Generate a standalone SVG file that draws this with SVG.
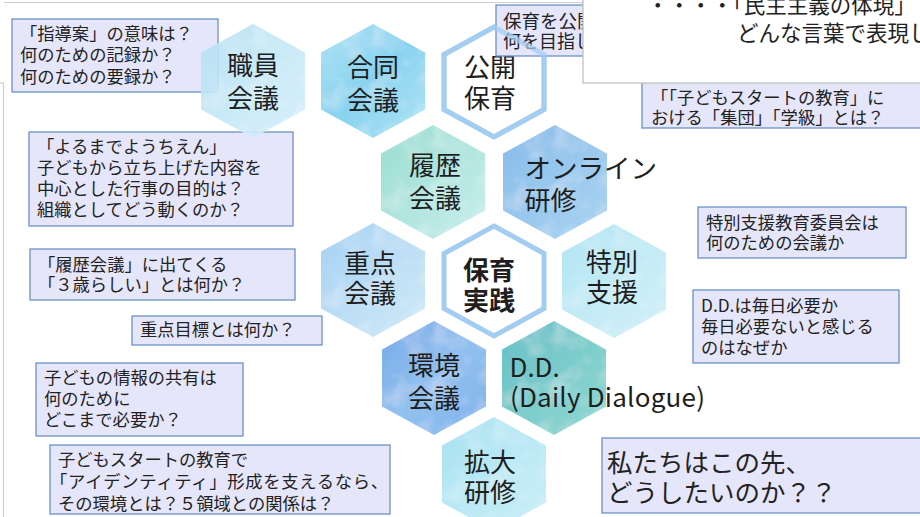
<svg xmlns="http://www.w3.org/2000/svg" xmlns:xlink="http://www.w3.org/1999/xlink" width="920" height="517" viewBox="0 0 920 517">
<style>
.box{fill:#E6E6FA;stroke:#6C93C7;stroke-width:1.3}
.bt{font-family:"Noto Sans CJK JP","Noto Sans",sans-serif;font-size:17.3px;fill:#222}
.ht{font-family:"Noto Sans CJK JP","Noto Sans",sans-serif;font-size:26px;fill:#1e1e1e;text-anchor:middle}
.hs{text-anchor:start}
.hx{opacity:0.9}
.ring{fill:#fff;stroke:#A3CDF0;stroke-width:5}
.ringline{fill:none;stroke:#A3CDF0;stroke-width:5;opacity:0.75}
.frame{stroke:#CFCFCF;stroke-width:1.2;fill:none}
</style>
<defs>
<path id="hx" d="M0,-57 L52,-28.5 L52,28.5 L0,57 L-52,28.5 L-52,-28.5Z"/>
<path id="hxo" d="M0,-55 L50,-27.5 L50,27.5 L0,55 L-50,27.5 L-50,-27.5Z"/>
<linearGradient id="g1" x1="0" y1="0" x2="1" y2="1"><stop offset="0" stop-color="#B4E0F4"/><stop offset="1" stop-color="#D4EFFA"/></linearGradient>
<linearGradient id="g2" x1="0" y1="0" x2="1" y2="1"><stop offset="0" stop-color="#A6E0F4"/><stop offset="0.5" stop-color="#7CCEEE"/><stop offset="1" stop-color="#A8E2F5"/></linearGradient>
<linearGradient id="g3" x1="0" y1="0" x2="1" y2="1"><stop offset="0" stop-color="#8FDACC"/><stop offset="1" stop-color="#C3ECEC"/></linearGradient>
<linearGradient id="g4" x1="0" y1="0" x2="1" y2="1"><stop offset="0" stop-color="#7AB5E8"/><stop offset="1" stop-color="#A2D0F0"/></linearGradient>
<linearGradient id="g5" x1="0" y1="0" x2="1" y2="1"><stop offset="0" stop-color="#9CCDF1"/><stop offset="1" stop-color="#CDE8F8"/></linearGradient>
<linearGradient id="g6" x1="0" y1="0" x2="1" y2="1"><stop offset="0" stop-color="#AAE2F4"/><stop offset="1" stop-color="#CFF0F8"/></linearGradient>
<linearGradient id="g7" x1="0" y1="0" x2="1" y2="1"><stop offset="0" stop-color="#68A0E4"/><stop offset="0.5" stop-color="#86BAEE"/><stop offset="1" stop-color="#74ABEA"/></linearGradient>
<linearGradient id="g8" x1="0" y1="0" x2="1" y2="1"><stop offset="0" stop-color="#56B9C2"/><stop offset="1" stop-color="#86D5CD"/></linearGradient>
<linearGradient id="g9" x1="0" y1="0" x2="1" y2="1"><stop offset="0" stop-color="#A0DFF1"/><stop offset="1" stop-color="#C7EEF7"/></linearGradient>
<filter id="wc" x="0" y="0" width="1" height="1">
<feTurbulence type="fractalNoise" baseFrequency="0.035" numOctaves="3" seed="4" result="n"/>
<feColorMatrix in="n" type="matrix" values="0 0 0 0 1  0 0 0 0 1  0 0 0 0 1  0.7 0 0 0 -0.32" result="w"/>
<feComposite in="w" in2="SourceGraphic" operator="in" result="spots"/>
<feMerge><feMergeNode in="SourceGraphic"/><feMergeNode in="spots"/></feMerge>
</filter>
</defs>

<g id="frame">
<line class="frame" x1="4" y1="2.5" x2="920" y2="2.5"/>
<line class="frame" x1="3.5" y1="83" x2="3.5" y2="517"/>
<line class="frame" x1="0" y1="83" x2="4" y2="83"/>
</g>

<g id="q-shidouan">
<rect class="box" x="12" y="19" width="206" height="73"/>
<text class="bt" x="20" y="39.5">「指導案」の意味は？</text>
<text class="bt" x="20" y="61">何のための記録か？</text>
<text class="bt" x="20" y="82.5">何のための要録か？</text>
</g>
<g id="q-yorumade">
<rect class="box" x="29" y="132" width="264" height="94"/>
<text class="bt" x="37" y="152.5">「よるまでようちえん」</text>
<text class="bt" x="37" y="173.8">子どもから立ち上げた内容を</text>
<text class="bt" x="37" y="195.1">中心とした行事の目的は？</text>
<text class="bt" x="37" y="216.4">組織としてどう動くのか？</text>
</g>
<g id="q-rireki">
<rect class="box" x="30" y="249" width="265" height="51"/>
<text class="bt" x="38" y="270.5">「履歴会議」に出てくる</text>
<text class="bt" x="38" y="290.5">「３歳らしい」とは何か？</text>
</g>
<g id="q-juten">
<rect class="box" x="132" y="316" width="190" height="29"/>
<text class="bt" x="140" y="335.5">重点目標とは何か？</text>
</g>
<g id="q-joho">
<rect class="box" x="36" y="363" width="207" height="73"/>
<text class="bt" x="44" y="383.5">子どもの情報の共有は</text>
<text class="bt" x="44" y="404.5">何のために</text>
<text class="bt" x="44" y="425.5">どこまで必要か？</text>
</g>
<g id="q-identity">
<rect class="box" x="50" y="445" width="340" height="69"/>
<text class="bt" x="58" y="465.5">子どもスタートの教育で</text>
<text class="bt" x="50" y="487.5" textLength="338">「アイデンティティ」形成を支えるなら、</text>
<text class="bt" x="58" y="509.5">その環境とは？５領域との関係は？</text>
</g>
<g id="q-shudan">
<rect class="box" x="642" y="82" width="290" height="46"/>
<text class="bt" x="651" y="103.5">「「子どもスタートの教育」に</text>
<text class="bt" x="651" y="123.5">おける「集団」「学級」とは？</text>
</g>
<g id="q-tokubetsu">
<rect class="box" x="698" y="207" width="208" height="51"/>
<text class="bt" x="706" y="228.5">特別支援教育委員会は</text>
<text class="bt" x="706" y="248.5">何のための会議か</text>
</g>
<g id="q-dd">
<rect class="box" x="693" y="290" width="206" height="73"/>
<text class="bt" x="701" y="311.5">D.D.は毎日必要か</text>
<text class="bt" x="701" y="332.5">毎日必要ないと感じる</text>
<text class="bt" x="701" y="353.5">のはなぜか</text>
</g>
<g id="q-future">
<rect class="box" x="602" y="438" width="330" height="75"/>
<text class="bt" x="607" y="471.6" style="font-size:25.5px">私たちはこの先、</text>
<text class="bt" x="607" y="501.6" style="font-size:25.5px">どうしたいのか？？</text>
</g>

<g id="connectors"></g>

<g id="h-shokuin">
<use href="#hx" x="253" y="81" fill="url(#g1)" filter="url(#wc)" class="hx"/>
<text class="ht" x="253" y="74.8">職員</text>
<text class="ht" x="253" y="107.8">会議</text>
</g>
<g id="h-goudou">
<use href="#hx" x="373" y="81" fill="url(#g2)" filter="url(#wc)" class="hx"/>
<text class="ht" x="373" y="76.8">合同</text>
<text class="ht" x="373" y="109.8">会議</text>
</g>
<g id="h-koukai">
<use href="#hxo" x="494" y="82" class="ring"/>
<text class="ht" x="490" y="76.8">公開</text>
<text class="ht" x="490" y="107.8">保育</text>
</g>
<g id="q-koukai">
<rect class="box" x="496" y="5" width="120" height="51"/>
<text class="bt" x="503" y="27.5" style="font-size:18.5px">保育を公開し</text>
<text class="bt" x="503" y="47.5" style="font-size:18px">何を目指し</text>
<use href="#hxo" x="494" y="82" class="ringline"/>
</g>
<g id="h-rireki">
<use href="#hx" x="433" y="182" fill="url(#g3)" filter="url(#wc)" class="hx"/>
<text class="ht" x="435" y="174.8">履歴</text>
<text class="ht" x="435" y="207.8">会議</text>
</g>
<g id="h-online">
<use href="#hx" x="555" y="182" fill="url(#g4)" filter="url(#wc)" class="hx"/>
<text class="ht hs" x="524.5" y="177.8" style="font-size:26.5px">オンライン</text>
<text class="ht hs" x="524.5" y="209.8">研修</text>
</g>
<g id="h-juten">
<use href="#hx" x="373" y="280" fill="url(#g5)" filter="url(#wc)" class="hx"/>
<text class="ht" x="370" y="272.8">重点</text>
<text class="ht" x="370" y="302.8">会議</text>
</g>
<g id="h-jissen">
<use href="#hxo" x="494" y="281" class="ring"/>
<text class="ht" x="489" y="279.8" style="font-weight:700">保育</text>
<text class="ht" x="489" y="309.8" style="font-weight:700">実践</text>
</g>
<g id="h-tokubetsu">
<use href="#hx" x="614" y="281" fill="url(#g6)" filter="url(#wc)" class="hx"/>
<text class="ht" x="612" y="271.8">特別</text>
<text class="ht" x="612" y="301.8">支援</text>
</g>
<g id="h-kankyo">
<use href="#hx" x="434" y="378" fill="url(#g7)" filter="url(#wc)" class="hx"/>
<text class="ht" x="434" y="374.8">環境</text>
<text class="ht" x="434" y="407.8">会議</text>
</g>
<g id="h-dd">
<use href="#hx" x="554" y="378" fill="url(#g8)" filter="url(#wc)" class="hx"/>
<text class="ht hs" x="509.5" y="376.5">D.D.</text>
<text class="ht hs" x="510" y="406.5" textLength="195">(Daily Dialogue)</text>
</g>
<g id="h-kakudai">
<use href="#hx" x="494" y="474" fill="url(#g9)" filter="url(#wc)" class="hx"/>
<text class="ht" x="490" y="471.8">拡大</text>
<text class="ht" x="490" y="501.8">研修</text>
</g>

<g id="note-minshu">
<rect x="583" y="-2" width="345" height="85" fill="#fff" stroke="#BDBDBD" stroke-width="1.2"/>
<text class="bt" x="647" y="13" style="font-size:21.5px">・・・・「民主主義の体現」</text>
<text class="bt" x="737" y="41" style="font-size:21.5px">どんな言葉で表現し</text>
</g>
</svg>
